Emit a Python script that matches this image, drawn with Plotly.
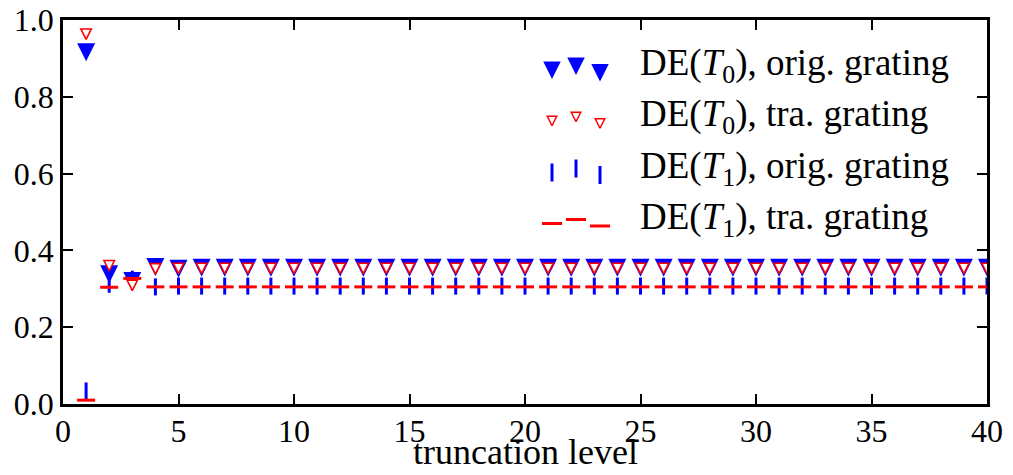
import plotly.graph_objects as go

# ---------------- data ----------------
truncation_level = list(range(1, 41))

de_t0_orig = [0.916, 0.338, 0.320, 0.357, 0.352, 0.355, 0.355, 0.355, 0.355, 0.355,
              0.355, 0.355, 0.355, 0.355, 0.355, 0.355, 0.355, 0.355, 0.355, 0.355,
              0.355, 0.355, 0.355, 0.355, 0.355, 0.355, 0.355, 0.355, 0.355, 0.355,
              0.355, 0.355, 0.355, 0.355, 0.355, 0.355, 0.355, 0.355, 0.355, 0.355]

de_t0_tra = [0.963, 0.360, 0.309, 0.352, 0.353, 0.353, 0.353, 0.353, 0.353, 0.353,
             0.353, 0.353, 0.353, 0.353, 0.353, 0.353, 0.353, 0.353, 0.353, 0.353,
             0.353, 0.353, 0.353, 0.353, 0.353, 0.353, 0.353, 0.353, 0.353, 0.353,
             0.353, 0.353, 0.353, 0.353, 0.353, 0.353, 0.353, 0.353, 0.353, 0.353]

de_t1_orig = [0.034, 0.312, 0.325, 0.305, 0.307, 0.307, 0.307, 0.307, 0.307, 0.307,
              0.307, 0.307, 0.307, 0.307, 0.307, 0.307, 0.307, 0.307, 0.307, 0.307,
              0.307, 0.307, 0.307, 0.307, 0.307, 0.307, 0.307, 0.307, 0.307, 0.307,
              0.307, 0.307, 0.307, 0.307, 0.307, 0.307, 0.307, 0.307, 0.307, 0.307]

de_t1_tra = [0.010, 0.304, 0.327, 0.305, 0.305, 0.305, 0.305, 0.305, 0.305, 0.305,
             0.305, 0.305, 0.305, 0.305, 0.305, 0.305, 0.305, 0.305, 0.305, 0.305,
             0.305, 0.305, 0.305, 0.305, 0.305, 0.305, 0.305, 0.305, 0.305, 0.305,
             0.305, 0.305, 0.305, 0.305, 0.305, 0.305, 0.305, 0.305, 0.305, 0.305]

series_labels = [
    "DE(<i>T</i><sub>0</sub>), orig. grating",
    "DE(<i>T</i><sub>0</sub>), tra. grating",
    "DE(<i>T</i><sub>1</sub>), orig. grating",
    "DE(<i>T</i><sub>1</sub>), tra. grating",
]

x_ticks = [0, 5, 10, 15, 20, 25, 30, 35, 40]
y_ticks = [0.0, 0.2, 0.4, 0.6, 0.8, 1.0]
x_title = "truncation level"

# ---------------- styles ----------------
FONT = "Liberation Serif"
BLUE = "#0000ff"
RED = "#ff0000"


def tri(size, color, line_color=None, line_width=0):
    # matplotlib-like 'v' marker: equal width/height, centred on the point
    return dict(symbol="arrow-down", size=size, standoff=size / 2, color=color,
                line=dict(color=line_color or color, width=line_width))


def stroke(symbol, length, color, width=3):
    # plotly line symbols are 1.4 x size long
    return dict(symbol=symbol, size=length / 1.4, color=color,
                line=dict(color=color, width=width))


styles = [
    tri(18, BLUE),
    tri(10.5, "white", RED, 1.6),
    stroke("line-ns", 17, BLUE),
    stroke("line-ew", 18, RED),
]
legend_styles = [
    tri(17.5, BLUE),
    tri(9.5, "white", RED, 1.5),
    stroke("line-ns", 18, BLUE),
    stroke("line-ew", 20, RED),
]

series = [de_t0_orig, de_t0_tra, de_t1_orig, de_t1_tra]
draw_order = [2, 0, 1, 3]

fig = go.Figure()
for i in draw_order:
    fig.add_trace(go.Scatter(
        x=truncation_level, y=series[i], mode="markers",
        marker=styles[i], showlegend=False, hoverinfo="skip",
        cliponaxis=True,
    ))

# ---------------- custom legend (pixel-unit overlay axes) ----------------
L, R, T, B = 63, 987, 20, 404
legend_marker_x = [552, 576, 600]
legend_marker_dy = [3.5, -0.5, 6.0]
legend_row_y = [66.7, 117.5, 169.0, 220.0]
legend_text_x = 638
legend_text_dy = -1

for i, row_y in enumerate(legend_row_y):
    fig.add_trace(go.Scatter(
        x=legend_marker_x, y=[row_y + d for d in legend_marker_dy],
        mode="markers", marker=legend_styles[i], xaxis="x2", yaxis="y2",
        showlegend=False, hoverinfo="skip", cliponaxis=False,
    ))
    fig.add_annotation(
        x=legend_text_x, y=row_y + legend_text_dy, xref="x2", yref="y2",
        text=series_labels[i], showarrow=False,
        xanchor="left", yanchor="middle",
        font=dict(family=FONT, size=37, color="black"),
    )

# x-axis title placed as text below the tick labels (paper coordinates)
title_px_y = 452
fig.add_annotation(
    x=0.5, y=(B - title_px_y) / (B - T), xref="paper", yref="paper",
    text=x_title, showarrow=False, xanchor="center", yanchor="middle",
    font=dict(family=FONT, size=36, color="black"),
)

axis_common = dict(
    showline=True, linewidth=2.5, linecolor="black", mirror="ticks",
    ticks="inside", ticklen=10, tickwidth=1.5, tickcolor="black",
    showgrid=False, zeroline=False, automargin=False,
    tickfont=dict(family=FONT, size=32, color="black"),
)

fig.update_layout(
    width=1013, height=475,
    margin=dict(l=L, r=1013 - R, t=T, b=475 - B),
    plot_bgcolor="white", paper_bgcolor="white",
    xaxis=dict(range=[0, 40], tickvals=x_ticks, ticktext=[str(v) for v in x_ticks],
               ticklabelstandoff=-3, **axis_common),
    yaxis=dict(range=[0, 1], tickvals=y_ticks, tickformat=".1f", **axis_common),
    xaxis2=dict(range=[L, R], overlaying="x", visible=False, anchor="y2"),
    yaxis2=dict(range=[B, T], overlaying="y", visible=False, anchor="x2"),
    showlegend=False,
)

fig.write_html("out.html")
